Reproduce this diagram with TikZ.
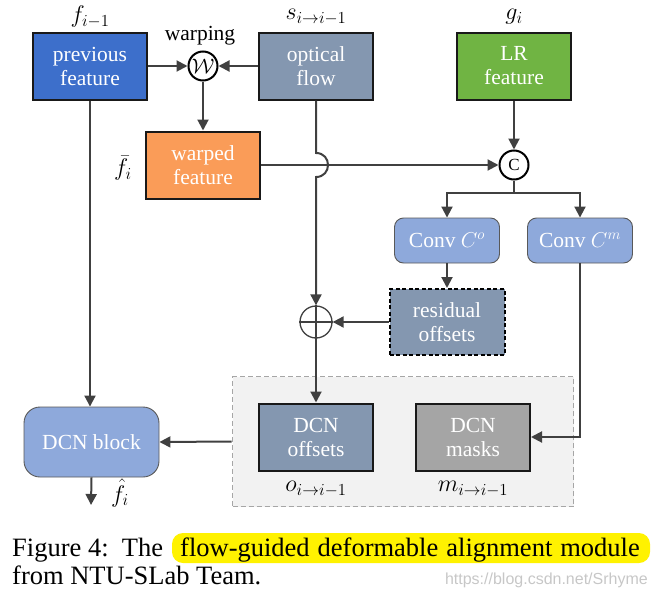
\RequirePackage{fix-cm}
\documentclass[tikz,border=0pt]{standalone}
\usepackage{fontspec}
\setmainfont{Liberation Serif}
\newfontfamily\wmfont{Liberation Sans}
\usetikzlibrary{arrows.meta,positioning}
\definecolor{pfblue}{HTML}{3D6FCB}
\definecolor{slate}{HTML}{8497B0}
\definecolor{lrgreen}{HTML}{70B443}
\definecolor{warporange}{HTML}{FA9C58}
\definecolor{convblue}{HTML}{8EA9DB}
\definecolor{maskgray}{HTML}{A5A5A5}
\definecolor{arrgray}{HTML}{404040}
\definecolor{regionfill}{HTML}{F2F2F2}
\definecolor{regionline}{HTML}{A6A6A6}
\begin{document}
\begin{tikzpicture}[x=1pt,y=-1pt,
  fnt/.style={font=\fontsize{21.5}{24}\selectfont},
  sqbox/.style={fnt,draw=black!90,line width=2pt,minimum width=114pt,minimum height=67pt,text=white,align=center,inner sep=0pt},
  rbox/.style={fnt,draw=gray!70!black,line width=0.9pt,rounded corners=9pt,fill=convblue,text=white,align=center,inner sep=0pt},
  arr/.style={draw=arrgray,line width=2pt,-{Triangle[length=11pt,width=11pt]}},
  ln/.style={draw=arrgray,line width=2pt},
  lbl/.style={font=\fontsize{24}{28}\selectfont,inner sep=0pt},
  opcirc/.style={circle,draw=black,line width=2pt,minimum size=29pt,inner sep=0pt,fill=white},
  capfont/.style={font=\fontsize{26.5}{30}\selectfont}
]
\useasboundingbox (0,0) rectangle (661,597);
% region
\node[draw=regionline,dashed,line width=1.6pt,fill=regionfill,minimum width=341pt,minimum height=130pt,inner sep=0pt,dash pattern=on 5pt off 3pt] (region) at (403,441.5) {};
% boxes
\node[sqbox,fill=pfblue] (pf) at (90,66) {previous\\feature};
\node[sqbox,fill=slate] (of) at (316,66) {optical\\flow};
\node[sqbox,fill=lrgreen] (lr) at (514,66) {LR\\feature};
\node[sqbox,fill=warporange] (wf) at (203,165) {warped\\feature};
\node[opcirc,font=\fontsize{21}{24}\selectfont] (W) at (203,66) {$\mathcal{W}$};
\node[opcirc,font=\fontsize{17}{20}\selectfont] (C) at (514,165) {C};
\node[rbox,minimum width=105pt,minimum height=45pt] (co) at (447,240.5) {Conv $C^{o}$};
\node[rbox,minimum width=105pt,minimum height=45pt] (cm) at (580,240.5) {Conv $C^{m}$};
\node[sqbox,fill=slate,dashed,dash pattern=on 4pt off 2.5pt,minimum width=115pt,minimum height=66pt,draw=black] (res) at (447,322) {residual\\offsets};
\node[circle,draw=arrgray,line width=1.3pt,minimum size=32pt,inner sep=0pt] (plus) at (316,322) {};
\draw[arrgray,line width=1.3pt] (plus.north) -- (plus.south) (plus.west) -- (plus.east);
\node[sqbox,fill=slate] (dof) at (316,437) {DCN\\offsets};
\node[sqbox,fill=maskgray] (dm) at (473,437) {DCN\\masks};
\node[rbox,minimum width=135pt,minimum height=70pt,rounded corners=16pt] (dcn) at (91.5,442) {DCN block};
% labels
\node[lbl] (lpf) at (90,17) {$f_{i-1}$};
\node[lbl] (lof) at (316,17) {$s_{i\to i-1}$};
\node[lbl] (llr) at (514,17) {$g_{i}$};
\node[fnt,inner sep=0pt] (lw) at (200,36) {warping};
\node[lbl] (lwf) at (123,168) {$\bar{f}_{i}$};
\node[lbl] (ldo) at (316,489) {$o_{i\to i-1}$};
\node[lbl] (ldm) at (473,489) {$m_{i\to i-1}$};
\node[lbl] (lout) at (120,493) {$\hat{f}_{i}$};
% connectors
\coordinate (split) at (514,193);
\coordinate (hopA) at (316,153);
\coordinate (hopB) at (316,177);
\coordinate (outend) at (91,505);
\draw[arr] (pf.east) -- (W.west);
\draw[arr] (of.west) -- (W.east);
\draw[arr] (W.south) -- (wf.north);
\draw[arr] (lr.south) -- (C.north);
\draw[arr] (wf.east) -- (C.west);
\draw[ln] (C.south) -- (split);
\draw[arr] (split) -| (co.north);
\draw[arr] (split) -| (cm.north);
\draw[arr] (co.south) -- (res.north);
\draw[arr] (res.west) -- (plus.east);
\draw[arr] (of.south) -- (hopA) .. controls (332,153) and (332,177) .. (hopB) -- (plus.north);
\draw[arr] (plus.south) -- (dof.north);
\draw[arr] (cm.south) |- (dm.east);
\draw[arr] (region.west) -- (dcn.east);
\draw[arr] (pf.south) -- (pf.south |- dcn.north);
\draw[arr] (dcn.south) -- (outend);
% caption
\node[fill=yellow,rounded corners=11pt,minimum height=30pt,minimum width=478pt,inner sep=0pt] (hl) at (411,548) {};
\node[anchor=base west,inner sep=0pt,capfont] (cap1) at (12,556) {Figure 4:\ \ The};
\node[anchor=base,inner sep=0pt,capfont] (cap2) at (410,556) {\spaceskip=8pt flow-guided deformable alignment module};
\node[anchor=base west,inner sep=0pt,capfont] (cap3) at (12,584) {from NTU-SLab Team.};
\node[anchor=base east,inner sep=0pt,font=\wmfont\fontsize{16}{18}\selectfont,text=black!22] (wm) at (648,584) {https://blog.csdn.net/Srhyme};
\end{tikzpicture}
\end{document}
